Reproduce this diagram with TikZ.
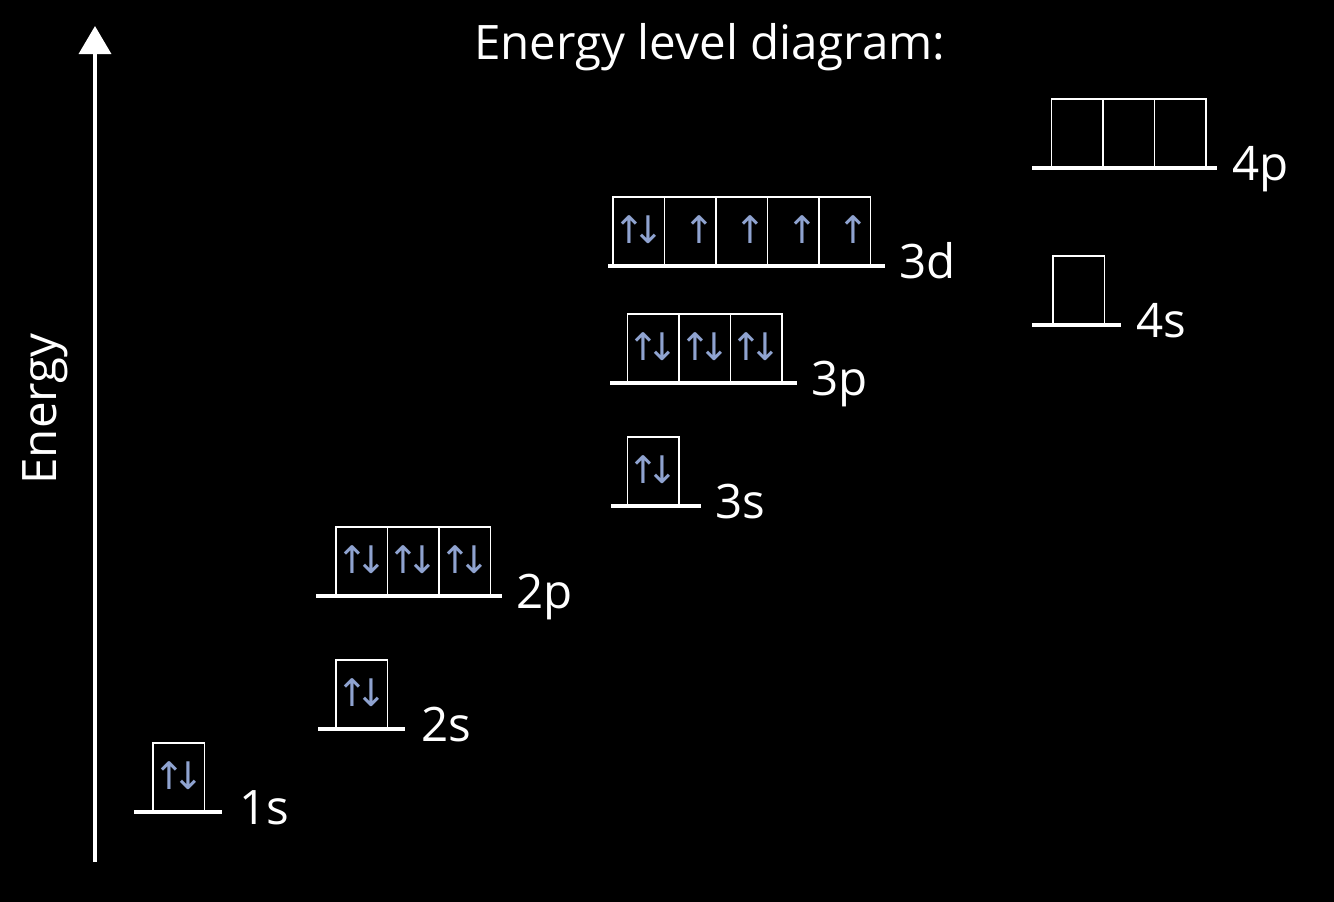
\documentclass[tikz,border=0pt]{standalone}
\usepackage{fontspec}
\setmainfont{Open Sans}
\newfontfamily\arrfont{DejaVu Sans}
\usetikzlibrary{arrows.meta}
\definecolor{spin}{HTML}{8FA3D0}
\tikzset{
  level/.style={draw=white,line width=3.6pt},
  orb/.style={draw=white,line width=1.6pt,minimum width=51.5pt,minimum height=68pt,inner sep=0pt,anchor=south west,text=spin,font=\arrfont\fontsize{38}{38}\selectfont},
  lab/.style={text=white,anchor=base west,inner sep=0pt,font=\fontsize{47.5}{47.5}\selectfont},
}
\newcommand{\pr}{\raisebox{4pt}{↑\kern-13pt↓}}
\newcommand{\up}{\raisebox{4pt}{\kern18pt↑}}
\begin{document}
\begin{tikzpicture}[x=1pt,y=-1pt]
\fill[black] (0,0) rectangle (1334,902);
\useasboundingbox (0,0) rectangle (1334,902);
% axis
\coordinate (a0) at (95,862);
\coordinate (a1) at (95,26);
\draw[white,line width=3.5pt,-{Triangle[length=28pt,width=32pt]}] (a0) -- (a1);
\node[lab,anchor=base,rotate=90] (elab) at (56,409) {Energy};
\node[lab,anchor=base] (title) at (710,59) {Energy level diagram:};
% 1s
\draw[level] (134,812) coordinate (l1s0) -- (222,812) coordinate (l1s1);
\node[orb] (o1s) at (152,812) {\pr};
\node[lab] (t1s) at (239,824) {1s};
% 2s
\draw[level] (318,729) coordinate (l2s0) -- (405,729) coordinate (l2s1);
\node[orb] (o2s) at (335,729) {\pr};
\node[lab] (t2s) at (421,741) {2s};
% 2p
\draw[level] (316,596) coordinate (l2p0) -- (502,596) coordinate (l2p1);
\node[orb] (o2pa) at (335,596) {\pr};
\node[orb] (o2pb) at (386.5,596) {\pr};
\node[orb] (o2pc) at (438,596) {\pr};
\node[lab] (t2p) at (516,608) {2p};
% 3s
\draw[level] (611,506) coordinate (l3s0) -- (701,506) coordinate (l3s1);
\node[orb] (o3s) at (626.5,506) {\pr};
\node[lab] (t3s) at (715,518) {3s};
% 3p
\draw[level] (610,383) coordinate (l3p0) -- (797,383) coordinate (l3p1);
\node[orb] (o3pa) at (626.5,383) {\pr};
\node[orb] (o3pb) at (678,383) {\pr};
\node[orb] (o3pc) at (729.5,383) {\pr};
\node[lab] (t3p) at (811,395) {3p};
% 3d
\draw[level] (608,266) coordinate (l3d0) -- (885,266) coordinate (l3d1);
\node[orb] (o3da) at (612,266) {\pr};
\node[orb] (o3db) at (663.5,266) {\up};
\node[orb] (o3dc) at (715,266) {\up};
\node[orb] (o3dd) at (766.5,266) {\up};
\node[orb] (o3de) at (818,266) {\up};
\node[lab] (t3d) at (899,278) {3d};
% 4s
\draw[level] (1032,325) coordinate (l4s0) -- (1121,325) coordinate (l4s1);
\node[orb] (o4s) at (1052,325) {};
\node[lab] (t4s) at (1136,337) {4s};
% 4p
\draw[level] (1032,168) coordinate (l4p0) -- (1217,168) coordinate (l4p1);
\node[orb] (o4pa) at (1050.5,168) {};
\node[orb] (o4pb) at (1102,168) {};
\node[orb] (o4pc) at (1153.5,168) {};
\node[lab] (t4p) at (1232,180) {4p};
\end{tikzpicture}
\end{document}
